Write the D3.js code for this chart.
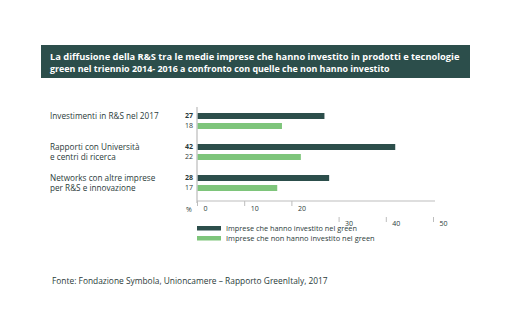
<!DOCTYPE html>
<html><head><meta charset="utf-8">
<script src="https://cdn.jsdelivr.net/npm/d3@7"></script>
<style>
body{margin:0;background:#fff;}
svg{display:block;font-family:"Open Sans",Lato,sans-serif;}
</style></head>
<body>
<script>
const titleLines = ["La diffusione della R&S tra le medie imprese che hanno investito in prodotti e tecnologie",
                    "green nel triennio 2014- 2016 a confronto con quelle che non hanno investito"];
const categories = [["Investimenti in R&S nel 2017"],["Rapporti con Università","e centri di ricerca"],["Networks con altre imprese","per R&S e innovazione"]];
const seriesNames = ["Imprese che hanno investito nel green","Imprese che non hanno investito nel green"];
const greenValues = [27, 42, 28];
const nonGreenValues = [18, 22, 17];
const ticksUpper = [0, 10, 20];
const ticksLower = [30, 40, 50];
const source = "Fonte: Fondazione Symbola, Unioncamere – Rapporto GreenItaly, 2017";

const colors = ["#2c4e4b", "#7ec57b"];
const W = 513, H = 329;
const svg = d3.select("body").append("svg").attr("width", W).attr("height", H);

function fit(el, target, base) {
  const len = el.node().getComputedTextLength();
  el.attr("font-size", base * target / len);
}

// title box
svg.append("rect").attr("x", 41).attr("y", 45).attr("width", 429).attr("height", 33).attr("fill", "#2c4e4b");
const tW = [410, 340];
titleLines.forEach((t, i) => {
  const el = svg.append("text").attr("x", 50).attr("y", 60 + i * 12)
    .attr("fill", "#fff").attr("font-weight", 700).attr("font-size", 9).text(t);
  fit(el, tW[i], 9);
});

const x = d3.scaleLinear().domain([0, 50]).range([197, 433]);
const keys = ["g", "n"];
const data = categories.map((c, i) => ({cat: i, g: greenValues[i], n: nonGreenValues[i]}));
const y0 = d3.scaleBand().domain(d3.range(categories.length)).range([106, 199]);
const y1 = d3.scaleBand().domain(keys).range([7, 23]).paddingInner(0.4);

// bars
const grp = svg.append("g").selectAll("g").data(data).join("g")
  .attr("transform", d => `translate(0,${y0(d.cat)})`);
grp.selectAll("rect").data(d => keys.map((k, j) => ({k, j, v: d[k]}))).join("rect")
  .attr("x", x(0)).attr("y", d => y1(d.k)).attr("height", y1.bandwidth())
  .attr("width", d => x(d.v) - x(0)).attr("fill", d => colors[d.j]);
grp.selectAll("text.val").data(d => keys.map((k, j) => ({k, j, v: d[k]}))).join("text")
  .attr("class", "val").attr("x", 193).attr("y", d => y1(d.k) + y1.bandwidth() / 2)
  .attr("dy", "0.35em").attr("text-anchor", "end").attr("font-size", 7)
  .attr("font-weight", d => d.j === 0 ? 700 : 400).attr("fill", "#2b3b3a").text(d => d.v);

// category labels
grp.each(function(d) {
  const lines = categories[d.cat];
  const g = d3.select(this);
  lines.forEach((l, i) => {
    g.append("text").attr("x", 50).attr("y", (i === 0 ? y1("g") : y1("n")) + y1.bandwidth() / 2)
      .attr("dy", "0.35em").attr("font-size", 8.2).attr("fill", "#2b3b3a").text(l);
  });
});

// y axis line
svg.append("line").attr("x1", 197).attr("x2", 197).attr("y1", 107).attr("y2", 203)
  .attr("stroke", "#c8c8c8").attr("stroke-width", 1.5);

// x axis upper
const axU = svg.append("g").attr("transform", "translate(0,201)")
  .call(d3.axisBottom(x).tickValues(ticksUpper).tickSize(5).tickSizeOuter(0));
axU.select(".domain").attr("stroke", "#bdbdbd").attr("d", `M${x(0)},0H${x(50) + 2}`);
axU.selectAll(".tick line").attr("stroke", "#bdbdbd");
axU.selectAll(".tick text").attr("text-anchor", "start").attr("x", 6).attr("y", 5)
  .attr("font-size", 7).attr("fill", "#2b3b3a").attr("font-family", "'Open Sans',sans-serif");

const axL = svg.append("g").attr("transform", "translate(0,217)")
  .call(d3.axisBottom(x).tickValues(ticksLower).tickSize(5).tickSizeOuter(0));
axL.select(".domain").remove();
axL.selectAll(".tick line").attr("stroke", "#bdbdbd");
axL.selectAll(".tick text").attr("text-anchor", "start").attr("x", 6).attr("y", 4)
  .attr("font-size", 7).attr("fill", "#2b3b3a").attr("font-family", "'Open Sans',sans-serif");

svg.append("text").attr("x", 186).attr("y", 210).attr("dy", "0.35em").attr("font-size", 7)
  .attr("fill", "#2b3b3a").text("%");

// legend
seriesNames.forEach((s, i) => {
  svg.append("rect").attr("x", 197).attr("y", 226 + i * 10).attr("width", 24).attr("height", 4.5)
    .attr("fill", colors[i]);
  const el = svg.append("text").attr("x", 226).attr("y", 228.3 + i * 10).attr("dy", "0.35em")
    .attr("font-size", 7).attr("fill", "#2b3b3a").text(s);
  fit(el, i === 0 ? 131 : 149, 7);
});

const src = svg.append("text").attr("x", 52).attr("y", 281).attr("dy", "0.35em").attr("font-size", 8)
  .attr("fill", "#2b3b3a").text(source);
fit(src, 276, 8);
</script>
</body></html>
